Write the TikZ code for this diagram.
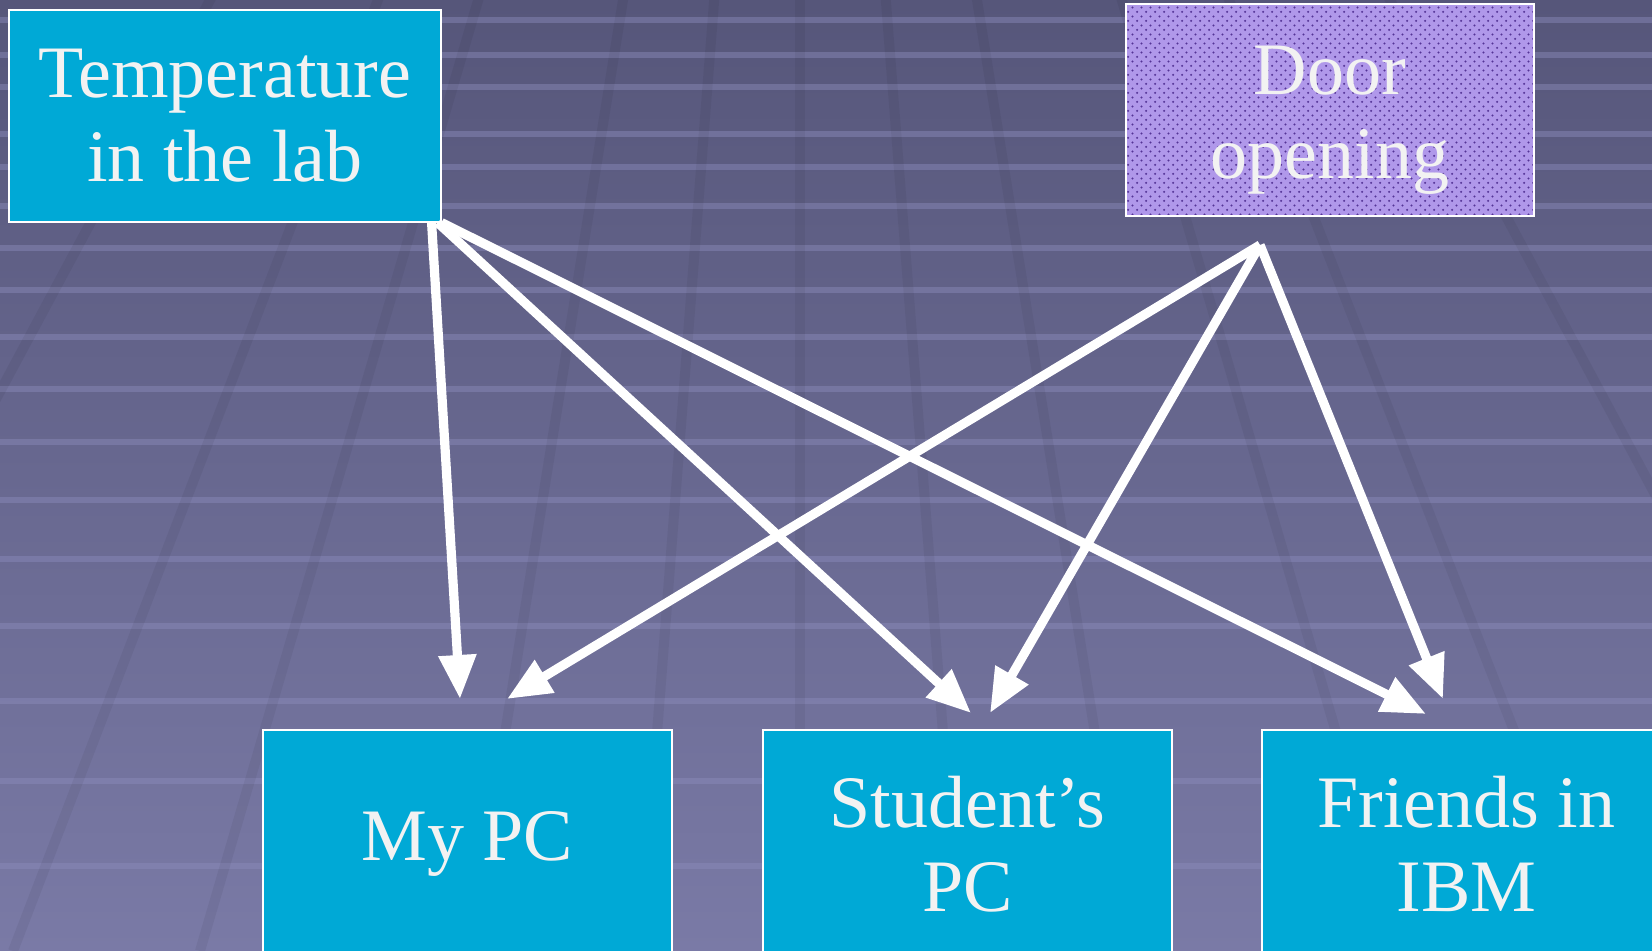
\documentclass[tikz,border=0pt]{standalone}
\usepackage{fontspec}
\setmainfont{Liberation Serif}
\usetikzlibrary{
  arrows.meta,
  patterns.meta,
  positioning,
}
\definecolor{slidetop}{RGB}{86,86,122}
\definecolor{slidebottom}{RGB}{122,122,166}
\definecolor{stripe}{RGB}{140,140,188}
\definecolor{boxcyan}{RGB}{0,169,214}
\definecolor{boxlilac}{RGB}{176,152,234}
\definecolor{dotpurple}{RGB}{84,52,150}
\definecolor{slidetext}{RGB}{242,242,242}
\tikzdeclarepattern{
  name=doordots,
  type=uncolored,
  bounding box={(0,0) and (4.4pt,4.4pt)},
  tile size={(4.4pt,4.4pt)},
  code={
    \fill (1.1pt,1.1pt) circle (0.6pt);
    \fill (3.3pt,3.3pt) circle (0.6pt);
  }
}
\begin{document}
\begin{tikzpicture}[x=0.5pt,y=-0.5pt,
  slidebox/.style={draw=white,line width=0.8pt,fill=boxcyan,text=slidetext,
    font=\fontsize{37}{42}\selectfont,align=center,inner sep=0pt,anchor=north west},
  lilacbox/.style={slidebox,fill=boxlilac,
    postaction={pattern=doordots,pattern color=dotpurple},
    postaction={draw=white,line width=0.8pt}},
  link/.style={white,line width=4.6pt,-{Triangle[length=22pt,width=18pt]}},
]
\useasboundingbox (0,0) rectangle (1652,951);
\clip (0,0) rectangle (1652,951);
\shade[top color=slidetop,bottom color=slidebottom] (0,0) rectangle (1652,951);
\foreach \y in {20,55,87,134,167,206,248,290,337,389,442,500,559,626,701,781,866}
  \draw[stripe,line width=3pt,opacity=.45] (0,\y) -- (1652,\y);
\foreach \x in {-300,13,200,470,640,800,960,1130,1400,1600,1900}
  \draw[black,opacity=.05,line width=5pt] (800,-1100) -- (\x,951);

\node[slidebox,minimum width=216pt,minimum height=106pt] (temp) at (8,9) {Temperature\\in the lab};
\node[lilacbox,minimum width=204pt,minimum height=106pt] (door) at (1125,3) {\rule{0pt}{35pt}Door\\opening};
\node[slidebox,minimum width=204.5pt,minimum height=114pt] (mypc) at (262,729) {My PC};
\node[slidebox,minimum width=204.5pt,minimum height=114pt] (student) at (762,729) {Student’s\\PC};
\node[slidebox,minimum width=204.5pt,minimum height=114pt] (ibm) at (1261,729) {Friends in\\IBM};

\coordinate (doorhub) at (1260,245);
\coordinate (mypcleft) at (460,699);
\coordinate (mypcright) at (507,699);
\coordinate (studentleft) at (971,713);
\coordinate (studentright) at (990,713);
\coordinate (ibmleft) at (1426,714);
\coordinate (ibmright) at (1443,699);

\draw[link] ([xshift=-5pt]temp.south east) -- (mypcleft);
\draw[link] ([xshift=-2pt]temp.south east) -- (studentleft);
\draw[link] (temp.south east) -- (ibmleft);
\draw[link] (doorhub) -- (mypcright);
\draw[link] (doorhub) -- (studentright);
\draw[link] (doorhub) -- (ibmright);
\end{tikzpicture}
\end{document}
